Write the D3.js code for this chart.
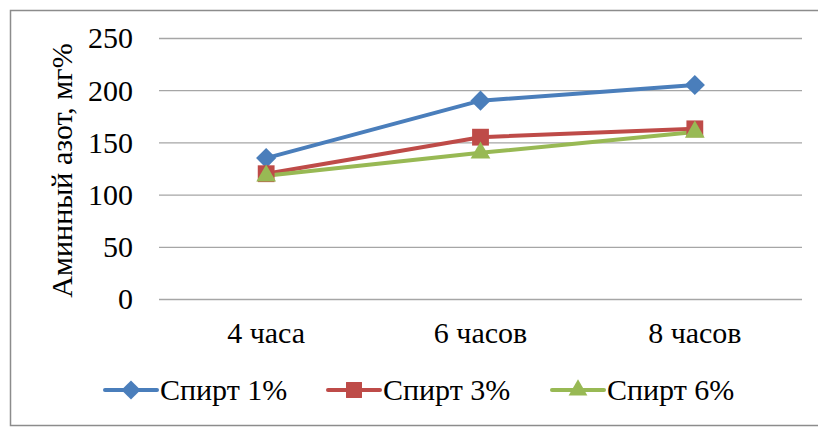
<!DOCTYPE html>
<html>
<head>
<meta charset="utf-8">
<script src="https://cdn.jsdelivr.net/npm/d3@7"></script>
</head>
<body style="margin:0;background:#fff">
<svg id="chart" width="818" height="427" style="display:block"></svg>
<script>
// Amine nitrogen content over time for three alcohol concentrations
const categories = ["4 часа", "6 часов", "8 часов"];
const seriesNames = ["Спирт 1%", "Спирт 3%", "Спирт 6%"];
const spirt1 = [135, 190, 205];
const spirt3 = [120, 155, 163];
const spirt6 = [118, 140, 160];
const yTicks = [0, 50, 100, 150, 200, 250];
const yTitle = "Аминный азот, мг%";

const colors = ["#4A7EBB", "#BE4B48", "#98B954"];
const symbols = [d3.symbolDiamond2, d3.symbolSquare2, d3.symbolTriangle2];
const symbolSizes = [260, 360, 280];
const series = [spirt1, spirt3, spirt6].map((values, i) => ({
  name: seriesNames[i], values, color: colors[i], symbol: symbols[i], size: symbolSizes[i]
}));

const FAMILY = "'Liberation Serif', Tinos, 'Times New Roman', serif";
const FONT = 30;
const svg = d3.select("#chart")
  .style("font-family", FAMILY, "important");
const plot = { left: 159, right: 802, top: 38, bottom: 299 };

// applies the serif face to a text selection
const serifText = sel => sel
  .attr("font-family", FAMILY)
  .attr("font-size", FONT)
  .style("font-family", FAMILY, "important")
  .style("font-size", FONT + "px");

// outer frame
svg.append("rect")
  .attr("x", 10.5).attr("y", 10.5)
  .attr("width", 820).attr("height", 415)
  .attr("fill", "none").attr("stroke", "#8c8c8c").attr("stroke-width", 1.5);

const x = d3.scaleBand().domain(categories).range([plot.left, plot.right]);
const y = d3.scaleLinear().domain([0, 250]).range([plot.bottom, plot.top]);

// horizontal gridlines with value labels
const yAxis = svg.append("g")
  .attr("transform", `translate(${plot.left},0)`)
  .call(d3.axisLeft(y).tickValues(yTicks).tickSize(-(plot.right - plot.left)).tickPadding(26));
yAxis.attr("font-family", FAMILY).attr("font-size", FONT);
yAxis.select(".domain").remove();
yAxis.selectAll(".tick line").attr("stroke", "#a6a6a6").attr("stroke-width", 1.3);
yAxis.selectAll(".tick text").call(serifText)
  .attr("fill", "#000").attr("dy", "0.33em");

// category labels
const xAxis = svg.append("g")
  .attr("transform", `translate(0,${plot.bottom})`)
  .call(d3.axisBottom(x).tickSize(0).tickPadding(0));
xAxis.attr("font-family", FAMILY).attr("font-size", FONT);
xAxis.select(".domain").remove();
xAxis.selectAll(".tick text").call(serifText)
  .attr("fill", "#000").attr("y", 44).attr("dy", 0);

// y axis title
svg.append("text")
  .attr("transform", `translate(72,${(plot.top + plot.bottom) / 2 + 2}) rotate(-90)`)
  .attr("text-anchor", "middle")
  .call(serifText)
  .text(yTitle);

// lines and markers
const cx = i => x(categories[i]) + x.bandwidth() / 2;
const line = d3.line().x((d, i) => cx(i)).y(d => y(d));

series.forEach(s => {
  svg.append("path")
    .attr("d", line(s.values))
    .attr("fill", "none").attr("stroke", s.color)
    .attr("stroke-width", 4).attr("stroke-linejoin", "round").attr("stroke-linecap", "round");
});
series.forEach(s => {
  svg.selectAll(null).data(s.values).enter().append("path")
    .attr("transform", (d, i) => `translate(${cx(i)},${y(d)})`)
    .attr("d", d3.symbol().type(s.symbol).size(s.size)())
    .attr("fill", s.color);
});

// legend
const legendX = [105, 328, 552];
const legendY = 390;
series.forEach((s, i) => {
  const g = svg.append("g").attr("transform", `translate(${legendX[i]},${legendY})`);
  g.append("line").attr("x1", 0).attr("x2", 52).attr("y1", 0).attr("y2", 0)
    .attr("stroke", s.color).attr("stroke-width", 4).attr("stroke-linecap", "round");
  g.append("path")
    .attr("transform", "translate(26,0)")
    .attr("d", d3.symbol().type(s.symbol).size(s.size * 0.9)())
    .attr("fill", s.color);
  g.append("text").attr("x", 55).attr("y", 0).attr("dy", "0.33em")
    .call(serifText)
    .text(s.name);
});
</script>
</body>
</html>
